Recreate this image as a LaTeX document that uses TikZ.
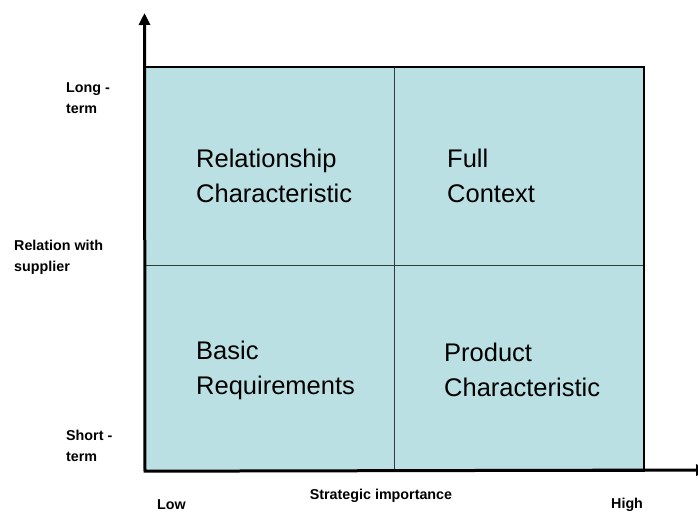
\documentclass[tikz,border=0pt]{standalone}
\usepackage{fontspec}
\setmainfont{Liberation Sans}
\usetikzlibrary{arrows.meta, positioning}
\definecolor{quadfill}{HTML}{BAE0E3}
\definecolor{gridline}{HTML}{2F3B3C}
\tikzstyle{quad} = [draw=gridline, line width=1.2pt, fill=quadfill, rectangle, anchor=north west, inner sep=0pt, minimum width=249pt]
\tikzstyle{big} = [font=\fontsize{25.5}{35}\selectfont, align=left, inner sep=0pt, anchor=west]
\tikzstyle{small} = [font=\fontsize{14.3}{21}\selectfont\bfseries, align=left, inner sep=0pt, anchor=west]
\tikzstyle{axis} = [line width=3pt, -{Triangle[length=12pt,width=11pt]}]

\begin{document}
\begin{tikzpicture}[x=1pt,y=-1pt]
  \useasboundingbox (0,0) rectangle (698,513);
  % quadrants
  \node[quad, minimum height=198pt] (rc) at (145,67) {};
  \node[quad, minimum height=198pt] (fc) at (394,67) {};
  \node[quad, minimum height=205pt] (br) at (145,265) {};
  \node[quad, minimum height=205pt] (pc) at (394,265) {};
  \draw[line width=1.8pt] (rc.north west) rectangle (pc.south east);
  \node[big] (rctext) at (196,176) {Relationship\\Characteristic};
  \node[big] (fctext) at (447,176) {Full\\Context};
  \node[big] (brtext) at (196,370) {Basic\\Requirements};
  \node[big] (pctext) at (444,370) {Product\\Characteristic};
  % axes
  \coordinate (origin) at (br.south west);
  \coordinate (ytop) at (144.5,13);
  \coordinate (xend) at (708,470);
  \draw[axis] (origin) -- (ytop);
  \draw[axis] ([xshift=-1.5pt]origin) -- (xend);
  % labels
  \node[small] (long) at (66,98) {Long -\\term};
  \node[small] (rel) at (14,257) {Relation with\\supplier};
  \node[small] (short) at (66,446) {Short -\\term};
  \node[small] (low) at (157,505) {Low};
  \node[small, anchor=center] (imp) at (381,496) {Strategic importance};
  \node[small] (high) at (611,505) {High};
\end{tikzpicture}
\end{document}
